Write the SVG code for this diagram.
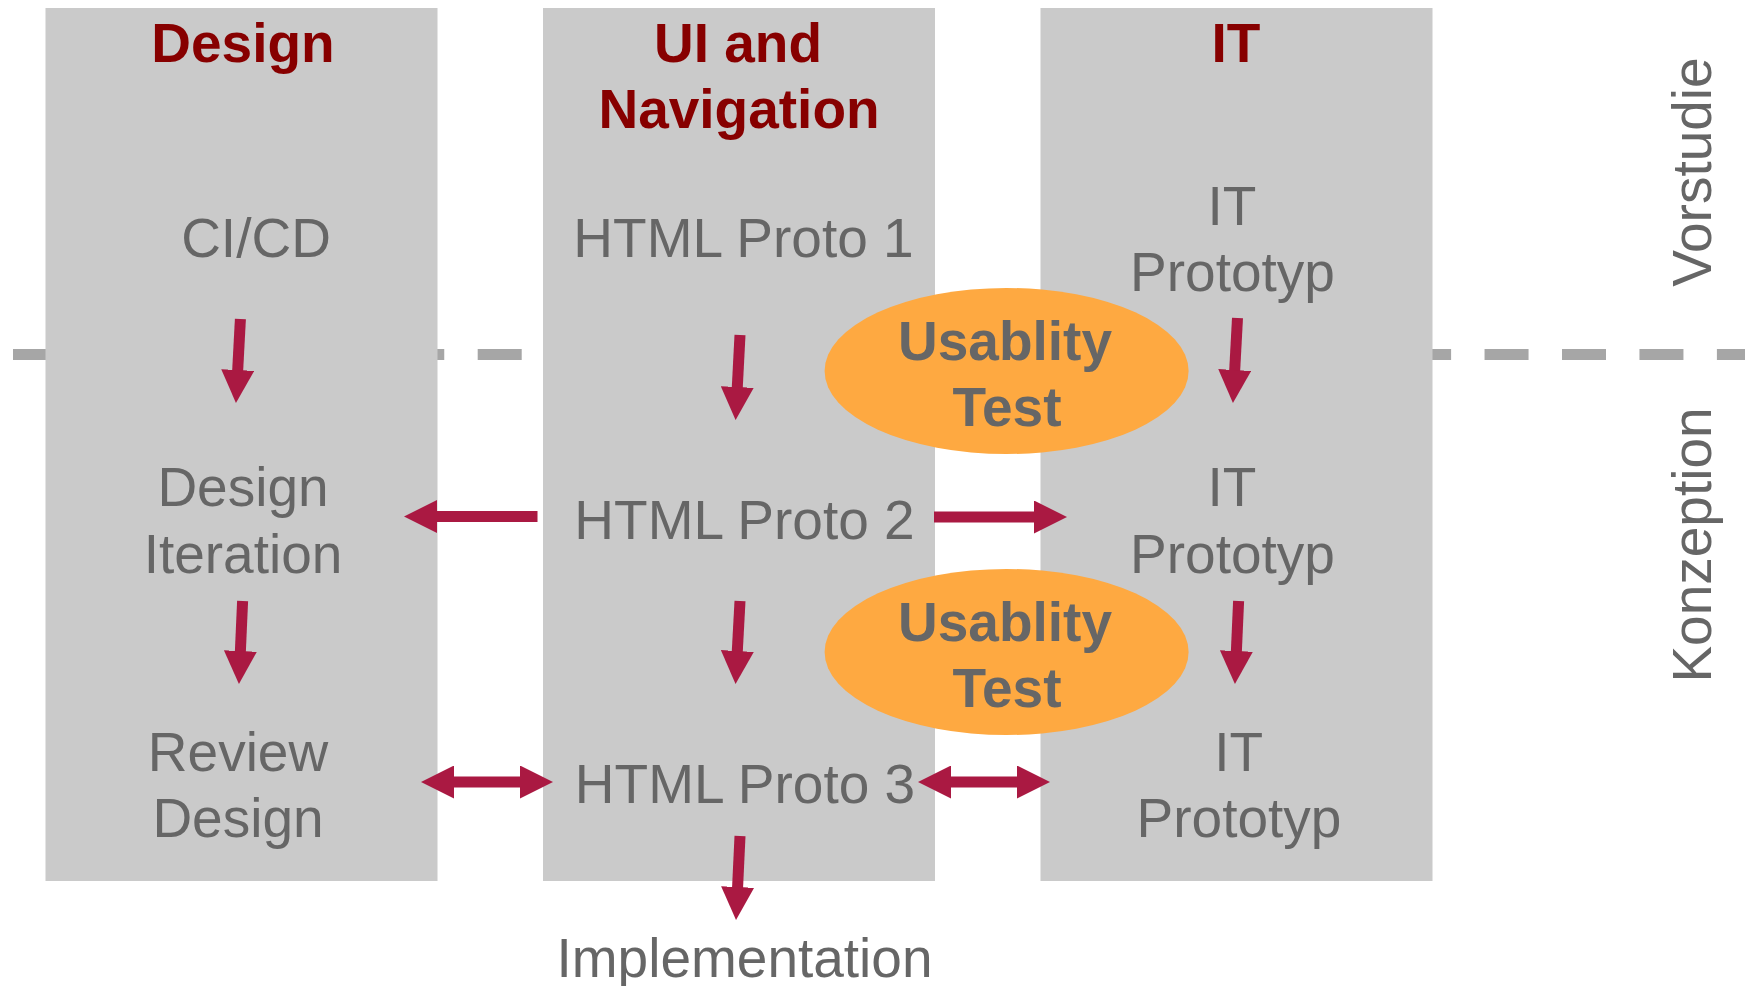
<svg xmlns="http://www.w3.org/2000/svg" width="1745" height="986" viewBox="0 0 1745 986">
<style>
  .col { fill: #cacaca; }
  .title { font-family: "Liberation Sans", Arial, sans-serif; font-size: 55px; font-weight: bold; fill: #870000; text-anchor: middle; }
  .txt { font-family: "Liberation Sans", Arial, sans-serif; font-size: 55px; fill: #666666; text-anchor: middle; }
  .ut { font-family: "Liberation Sans", Arial, sans-serif; font-size: 55px; font-weight: bold; fill: #666666; text-anchor: middle; }
  .ell { fill: #fea941; }
  .arr { stroke: #aa1942; stroke-width: 11; fill: none; marker-end: url(#head); }
  .dbl { marker-start: url(#head); }
  .phase { stroke: #a6a6a6; stroke-width: 11; stroke-dasharray: 44 33.45; fill: none; }
</style>
<defs>
  <marker id="head" viewBox="0 0 33 33" markerWidth="33" markerHeight="33" markerUnits="userSpaceOnUse" refX="2" refY="16.5" orient="auto-start-reverse">
    <path d="M0,0 L33,16.5 L0,33 z" fill="#aa1942"/>
  </marker>
</defs>
<rect width="1745" height="986" fill="#ffffff"/>
<g id="phase-line">
  <line class="phase" x1="13" y1="354.5" x2="1745" y2="354.5"/>
</g>
<g id="col-design">
  <rect class="col" x="45.5" y="8" width="392" height="873"/>
  <text class="title" x="243" y="62">Design</text>
</g>
<g id="col-ui">
  <rect class="col" x="543" y="8" width="392" height="873"/>
  <text class="title" x="738" y="62">UI and</text>
  <text class="title" x="739" y="128">Navigation</text>
</g>
<g id="col-it">
  <rect class="col" x="1040.5" y="8" width="392" height="873"/>
  <text class="title" x="1236" y="62">IT</text>
</g>
<g id="connectors">
  <line class="arr" x1="240.4" y1="319" x2="237.6" y2="372"/>
  <line class="arr" x1="740" y1="335" x2="737.2" y2="389"/>
  <line class="arr" x1="1237.5" y1="318" x2="1234.6" y2="372"/>
  <line class="arr" x1="242.6" y1="601" x2="240.3" y2="653"/>
  <line class="arr" x1="740" y1="601" x2="737.2" y2="653"/>
  <line class="arr" x1="1238.6" y1="601" x2="1236.3" y2="653"/>
  <line class="arr" x1="740" y1="836" x2="737.5" y2="889"/>
  <line class="arr" x1="934" y1="517" x2="1036" y2="517"/>
  <line class="arr" x1="537.5" y1="516.5" x2="435" y2="516.5"/>
  <line class="arr dbl" x1="452" y1="782" x2="522" y2="782"/>
  <line class="arr dbl" x1="949" y1="782" x2="1019" y2="782"/>
</g>
<g id="usability-1">
  <ellipse class="ell" cx="1006.6" cy="371" rx="182" ry="83"/>
  <text class="ut" x="1005" y="360">Usablity</text>
  <text class="ut" x="1007" y="426">Test</text>
</g>
<g id="usability-2">
  <ellipse class="ell" cx="1006.6" cy="652" rx="182" ry="83"/>
  <text class="ut" x="1005" y="641">Usablity</text>
  <text class="ut" x="1007" y="707">Test</text>
</g>
<g id="cicd"><text class="txt" x="256" y="257">CI/CD</text></g>
<g id="html1"><text class="txt" x="743.5" y="257">HTML Proto 1</text></g>
<g id="it1"><text class="txt" x="1232" y="225">IT</text><text class="txt" x="1232.5" y="291">Prototyp</text></g>
<g id="design-iteration"><text class="txt" x="243" y="506">Design</text><text class="txt" x="243" y="573">Iteration</text></g>
<g id="html2"><text class="txt" x="744.5" y="539">HTML Proto 2</text></g>
<g id="it2"><text class="txt" x="1232" y="506">IT</text><text class="txt" x="1232.5" y="573">Prototyp</text></g>
<g id="review-design"><text class="txt" x="238" y="771">Review</text><text class="txt" x="238" y="837">Design</text></g>
<g id="html3"><text class="txt" x="745" y="803">HTML Proto 3</text></g>
<g id="it3"><text class="txt" x="1238.7" y="771">IT</text><text class="txt" x="1239" y="837">Prototyp</text></g>
<g id="implementation"><text class="txt" x="744.5" y="977">Implementation</text></g>
<g id="phase-vorstudie"><text class="txt" transform="translate(1711,172) rotate(-90)">Vorstudie</text></g>
<g id="phase-konzeption"><text class="txt" transform="translate(1711,545) rotate(-90)">Konzeption</text></g>
</svg>
